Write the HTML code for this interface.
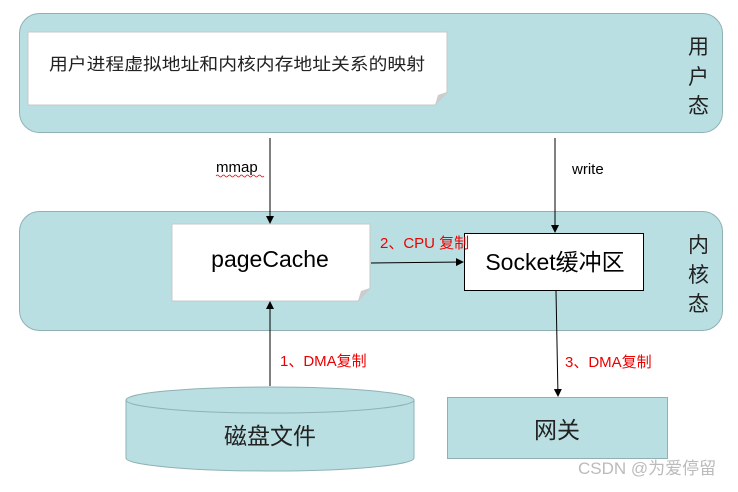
<!DOCTYPE html>
<html><head><meta charset="utf-8"><style>
body{margin:0;background:#fff;width:738px;height:487px;overflow:hidden}
svg text{font-family:"Liberation Sans","Noto Sans CJK SC",sans-serif}
</style></head><body>
<svg width="738" height="487" xmlns="http://www.w3.org/2000/svg">
<defs><marker id="a" markerWidth="8" markerHeight="8" refX="7" refY="4" orient="auto" markerUnits="userSpaceOnUse"><path d="M0,0 L8,4 L0,8 z" fill="#000"/></marker></defs>
<rect x="19.5" y="13.5" width="703" height="119" rx="20" fill="#badfe2" stroke="#8fb1b4"/>
<rect x="19.5" y="211.5" width="703" height="119" rx="20" fill="#badfe2" stroke="#8fb1b4"/>
<path d="M28,32 H447 V92 L435,105 H28 Z" fill="#fff" stroke="#c8c8c8"/>
<path d="M435,105 L438,95 L447,92 Z" fill="#ccc"/>
<text x="49" y="70" font-size="17" fill="#222" textLength="376" lengthAdjust="spacingAndGlyphs">用户进程虚拟地址和内核内存地址关系的映射</text>
<text x="688" y="54" font-size="21" fill="#222">用</text>
<text x="688" y="84" font-size="21" fill="#222">户</text>
<text x="688" y="113" font-size="21" fill="#222">态</text>
<text x="688" y="252" font-size="21" fill="#222">内</text>
<text x="688" y="282" font-size="21" fill="#222">核</text>
<text x="688" y="311" font-size="21" fill="#222">态</text>
<path d="M172,224 H370 V288 L358,301 H172 Z" fill="#fff" stroke="#c8c8c8"/>
<path d="M358,301 L361,291 L370,288 Z" fill="#ccc"/>
<text x="270" y="267" font-size="23" text-anchor="middle" fill="#000">pageCache</text>
<rect x="464.5" y="233.5" width="179" height="57" fill="#fff" stroke="#000"/>
<text x="555" y="270" font-size="23" text-anchor="middle" fill="#000">Socket缓冲区</text>
<path d="M126,400 V458 A144,13 0 0 0 414,458 V400" fill="#badfe2" stroke="#8fb1b4"/>
<ellipse cx="270" cy="400" rx="144" ry="13" fill="#badfe2" stroke="#8fb1b4"/>
<text x="270" y="444" font-size="23" text-anchor="middle" fill="#222">磁盘文件</text>
<rect x="447.5" y="397.5" width="220" height="61" fill="#badfe2" stroke="#8fb1b4"/>
<text x="557" y="438" font-size="23" text-anchor="middle" fill="#222">网关</text>
<line x1="270" y1="138" x2="270" y2="223" stroke="#000" marker-end="url(#a)"/>
<line x1="555" y1="138" x2="555" y2="232" stroke="#000" marker-end="url(#a)"/>
<line x1="371" y1="263" x2="463" y2="262" stroke="#000" marker-end="url(#a)"/>
<line x1="270" y1="386" x2="270" y2="302" stroke="#000" marker-end="url(#a)"/>
<line x1="556" y1="291" x2="558" y2="396" stroke="#000" marker-end="url(#a)"/>
<text x="216" y="172" font-size="15" fill="#000">mmap</text>
<path d="M216,176 q1.5,-2 3,0 t3,0 t3,0 t3,0 t3,0 t3,0 t3,0 t3,0 t3,0 t3,0 t3,0 t3,0 t3,0 t3,0 t3,0 t3,0" fill="none" stroke="#e00" stroke-width="0.7"/>
<text x="572" y="174" font-size="15" fill="#000">write</text>
<text x="380" y="248" font-size="15" fill="#e00">2、CPU 复制</text>
<text x="280" y="366" font-size="15" fill="#e00">1、DMA复制</text>
<text x="565" y="367" font-size="15" fill="#e00">3、DMA复制</text>
<text x="578" y="474" font-size="17" fill="#bbb">CSDN @为爱停留</text>
</svg>
</body></html>
